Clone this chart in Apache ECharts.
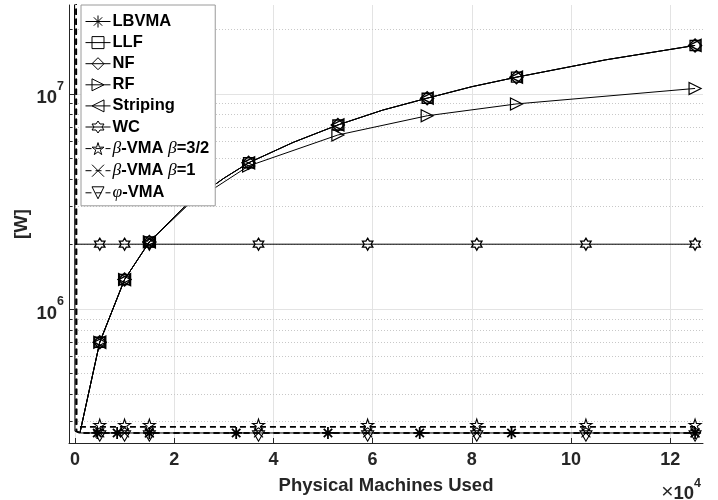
<!DOCTYPE html>
<html><head><meta charset="utf-8">
<script src="https://cdn.jsdelivr.net/npm/echarts@6/dist/echarts.min.js"></script>
<style>html,body{margin:0;padding:0;background:#fff}#c{width:718px;height:500px}</style>
</head><body><div id="c"></div>
<script>
// ---------------- data ----------------
const seriesNames = ['LBVMA', 'LLF', 'NF', 'RF', 'Striping', 'WC', 'β-VMA β=3/2', 'β-VMA β=1', 'φ-VMA'];
const xTickLabels = ['0', '2', '4', '6', '8', '10', '12'];

// LBVMA (solid, asterisk)
const lbvmaX = [-200, 0, 1000, 4500, 8500, 15000, 32500, 51000, 69500, 88000, 125000];
const lbvmaY = [1e10, 2.7e5, 2.65e5, 2.65e5, 2.65e5, 2.65e5, 2.65e5, 2.65e5, 2.65e5, 2.65e5, 2.65e5];
const lbvmaMarkX = [4500, 8500, 15000, 32500, 51000, 69500, 88000, 125000];

// beta / phi VMA (dashed)
const vmaX = [200, 300, 1000, 5000, 10000, 15000, 37000, 59000, 81000, 103000, 125000];
const beta32Y = [1e10, 2.9e5, 2.83e5, 2.83e5, 2.83e5, 2.83e5, 2.83e5, 2.83e5, 2.83e5, 2.83e5, 2.83e5];
const beta1Y = [1e10, 2.7e5, 2.65e5, 2.65e5, 2.65e5, 2.65e5, 2.65e5, 2.65e5, 2.65e5, 2.65e5, 2.65e5];
const phiY = [1e10, 2.7e5, 2.65e5, 2.65e5, 2.65e5, 2.65e5, 2.65e5, 2.65e5, 2.65e5, 2.65e5, 2.65e5];
const vmaMarkX = [5000, 10000, 15000, 37000, 59000, 81000, 103000, 125000];

// WC (flat)
const wcX = [0, 5000, 10000, 15000, 37000, 59000, 81000, 103000, 125000];
const wcY = [2e6, 2e6, 2e6, 2e6, 2e6, 2e6, 2e6, 2e6, 2e6];
const wcMarkX = [5000, 10000, 15000, 37000, 59000, 81000, 103000, 125000];

// LLF / NF / Striping (shared rising curve)
const curveX = [1000, 5000, 10000, 15000, 22500, 30000, 35000, 44000, 53000, 62000, 71000, 80000, 89000, 107000, 125000];
const curveY = [2.65e5, 7.0e5, 1.37e6, 2.05e6, 3.05e6, 4.05e6, 4.78e6, 5.95e6, 7.17e6, 8.4e6, 9.55e6, 1.08e7, 1.196e7, 1.44e7, 1.68e7];
const curveMarkX = [5000, 10000, 15000, 35000, 53000, 71000, 89000, 125000];

// RF
const rfX = [1000, 5000, 10000, 15000, 22500, 35000, 53000, 71000, 89000, 125000];
const rfY = [2.65e5, 7.0e5, 1.37e6, 2.05e6, 3.0e6, 4.62e6, 6.44e6, 7.91e6, 8.98e6, 1.06e7];
const rfMarkX = [5000, 10000, 15000, 35000, 53000, 71000, 89000, 125000];

// axis ranges and minor grid values
const xMin = -1200, xMax = 126600;
const yMin = 2.38e5, yMax = 2.59e7;
const minorY = [3e5, 4e5, 5e5, 6e5, 7e5, 8e5, 9e5, 2e6, 3e6, 4e6, 5e6, 6e6, 7e6, 8e6, 9e6, 2e7];

// ---------------- styling ----------------
const FONT = '"Liberation Sans", Arial, Helvetica, sans-serif';
const SERIF = '"Liberation Serif", "DejaVu Serif", serif';
const INK = '#262626';

function starPath(n, rOut, rIn) {
  let d = '';
  for (let k = 0; k < 2 * n; k++) {
    const r = k % 2 === 0 ? rOut : rIn;
    const a = -Math.PI / 2 + k * Math.PI / n;
    d += (k === 0 ? 'M' : 'L') + (50 + r * Math.cos(a)).toFixed(2) + ',' + (50 + r * Math.sin(a)).toFixed(2);
  }
  return 'path://' + d + 'Z';
}
const SYM = {
  asterisk: 'path://M50,0L50,100M0,50L100,50M15,15L85,85M85,15L15,85',
  square: 'path://M0,0L100,0L100,100L0,100Z',
  diamond: 'path://M50,0L100,50L50,100L0,50Z',
  rightTri: 'path://M0,0L100,50L0,100Z',
  leftTri: 'path://M100,0L0,50L100,100Z',
  downTri: 'path://M0,0L100,0L50,87Z',
  hexagram: starPath(6, 50, 28.87),
  pentagram: starPath(5, 50, 19.1),
  cross: 'path://M0,0L100,100M100,0L0,100'
};

function build(xs, ys, marks) {
  return xs.map((x, i) => marks.includes(x) ? [x, ys[i]] : { value: [x, ys[i]], symbol: 'none' });
}

function mkSeries(name, data, symbol, size, dashed, extra, bw) {
  return Object.assign({
    type: 'line', name: name, data: data,
    symbol: symbol, symbolSize: size, symbolKeepAspect: true,
    showSymbol: true, showAllSymbol: true,
    lineStyle: { color: '#000', width: dashed ? 1.6 : 1, type: dashed ? [6, 4] : 'solid' },
    itemStyle: { color: 'rgba(0,0,0,0)', borderColor: '#000', borderWidth: bw || 1.1 },
    emphasis: { disabled: true },
    z: 3,
    animation: false
  }, extra || {});
}

const series = [
  // minor grid (dotted) + minor ticks
  {
    type: 'line', name: '_grid', data: [], silent: true, z: 0, animation: false,
    markLine: {
      silent: true, z: 0, symbol: ['none', 'none'], label: { show: false }, animation: false,
      lineStyle: { type: [1, 2], color: '#c8c8c8', width: 1 },
      data: minorY.map(v => ({ yAxis: v })).concat(
        minorY.map(v => [{ coord: [xMin, v], lineStyle: { type: 'solid', color: INK, width: 1 } }, { coord: [xMin + 700, v] }])
      )
    }
  },
  mkSeries(seriesNames[0], build(lbvmaX, lbvmaY, lbvmaMarkX), SYM.asterisk, 12, false, null, 1.8),
  mkSeries(seriesNames[1], build(curveX, curveY, curveMarkX), SYM.square, 10, false, null, 1.4),
  mkSeries(seriesNames[2], build(curveX, curveY, curveMarkX), SYM.diamond, 13, false, null, 1.4),
  mkSeries(seriesNames[3], build(rfX, rfY, rfMarkX), SYM.rightTri, 12, false, null, 1.2),
  mkSeries(seriesNames[4], build(curveX, curveY, curveMarkX), SYM.leftTri, 12, false, null, 1.4),
  mkSeries(seriesNames[5], build(wcX, wcY, wcMarkX), SYM.hexagram, 12, false, null, 1.3),
  mkSeries(seriesNames[6], build(vmaX, beta32Y, vmaMarkX), SYM.pentagram, 12, true, { symbolOffset: [0, -2] }),
  mkSeries(seriesNames[7], build(vmaX, beta1Y, vmaMarkX), SYM.cross, 9, true),
  mkSeries(seriesNames[8], build(vmaX, phiY, vmaMarkX), SYM.downTri, 12, true, { symbolOffset: [0, 3] })
];

const legendText = {
  'LBVMA': '{b|LBVMA}', 'LLF': '{b|LLF}', 'NF': '{b|NF}', 'RF': '{b|RF}', 'Striping': '{b|Striping}', 'WC': '{b|WC}',
  'β-VMA β=3/2': '{i|β}{b|-VMA }{i|β}{b|=3/2}',
  'β-VMA β=1': '{i|β}{b|-VMA }{i|β}{b|=1}',
  'φ-VMA': '{i|φ}{b|-VMA}'
};

const chart = echarts.init(document.getElementById('c'), null, { renderer: 'canvas' });
chart.setOption({
  backgroundColor: '#fff',
  animation: false,
  grid: { left: 69, right: 15, top: 5, bottom: 57, containLabel: false, outerBoundsMode: 'none' },
  xAxis: {
    type: 'value', min: xMin, max: xMax, splitNumber: 6,
    name: 'Physical Machines Used', nameLocation: 'middle', nameGap: 33, nameMoveOverlap: false,
    nameTextStyle: { fontFamily: FONT, fontWeight: 'bold', fontSize: 18.5, color: INK },
    axisLine: { show: true, onZero: false, lineStyle: { color: INK, width: 1 } },
    axisTick: { show: true, inside: true, length: 5, lineStyle: { color: INK } },
    axisLabel: {
      margin: 8, showMinLabel: false, showMaxLabel: false,
      fontFamily: FONT, fontWeight: 'bold', fontSize: 18, color: INK,
      formatter: v => (Math.abs(v % 20000) < 1e-6 ? xTickLabels[Math.round(v / 20000)] : '')
    },
    splitLine: { show: true, showMinLine: false, showMaxLine: false, lineStyle: { color: '#e3e3e3', width: 1 } }
  },
  yAxis: {
    type: 'log', logBase: 10, min: yMin, max: yMax,
    name: '[W]', nameLocation: 'middle', nameGap: 38, nameMoveOverlap: false,
    nameTextStyle: { fontFamily: FONT, fontWeight: 'bold', fontSize: 18.5, color: INK },
    axisLine: { show: true, onZero: false, lineStyle: { color: INK, width: 1 } },
    axisTick: { show: true, inside: true, length: 5, lineStyle: { color: INK } },
    axisLabel: {
      margin: 5, showMinLabel: false, showMaxLabel: false,
      formatter: v => { const e = Math.log10(v); const r = Math.round(e); return Math.abs(e - r) < 1e-6 ? '{b|10}{s|' + r + '}' : ''; },
      rich: {
        b: { fontFamily: FONT, fontWeight: 'bold', fontSize: 18.5, color: INK, lineHeight: 28, verticalAlign: 'bottom' },
        s: { fontFamily: FONT, fontWeight: 'bold', fontSize: 12.5, color: INK, lineHeight: 28, verticalAlign: 'top' }
      }
    },
    splitLine: { show: true, showMinLine: false, showMaxLine: false, lineStyle: { color: '#e3e3e3', width: 1 } }
  },
  legend: {
    orient: 'vertical', left: 81, top: 5,
    padding: [8, 6, 4, 4],
    itemWidth: 25, itemHeight: 15, itemGap: 4.1,
    backgroundColor: '#fff', borderColor: '#9a9a9a', borderWidth: 1, borderRadius: 0,
    selectedMode: false,
    lineStyle: { width: 1 },
    itemStyle: { borderWidth: 1 },
    data: seriesNames,
    formatter: n => legendText[n],
    textStyle: {
      padding: [0, 0, 0, -3],
      rich: {
        b: { fontFamily: FONT, fontWeight: 'bold', fontSize: 16.5, color: '#000', lineHeight: 16 },
        i: { fontFamily: SERIF, fontStyle: 'italic', fontSize: 17.5, color: '#000', lineHeight: 16 }
      }
    }
  },
  graphic: [{
    type: 'text', right: 17, top: 477, silent: true,
    style: {
      text: '{x|×}{b|10}{s|4}',
      rich: {
        x: { fontFamily: FONT, fontSize: 21, fill: INK, lineHeight: 26, verticalAlign: 'bottom' },
        b: { fontFamily: FONT, fontWeight: 'bold', fontSize: 18.5, fill: INK, lineHeight: 26, verticalAlign: 'bottom' },
        s: { fontFamily: FONT, fontWeight: 'bold', fontSize: 12.5, fill: INK, lineHeight: 26, verticalAlign: 'top' }
      }
    }
  }],
  series: series
});
</script></body></html>
